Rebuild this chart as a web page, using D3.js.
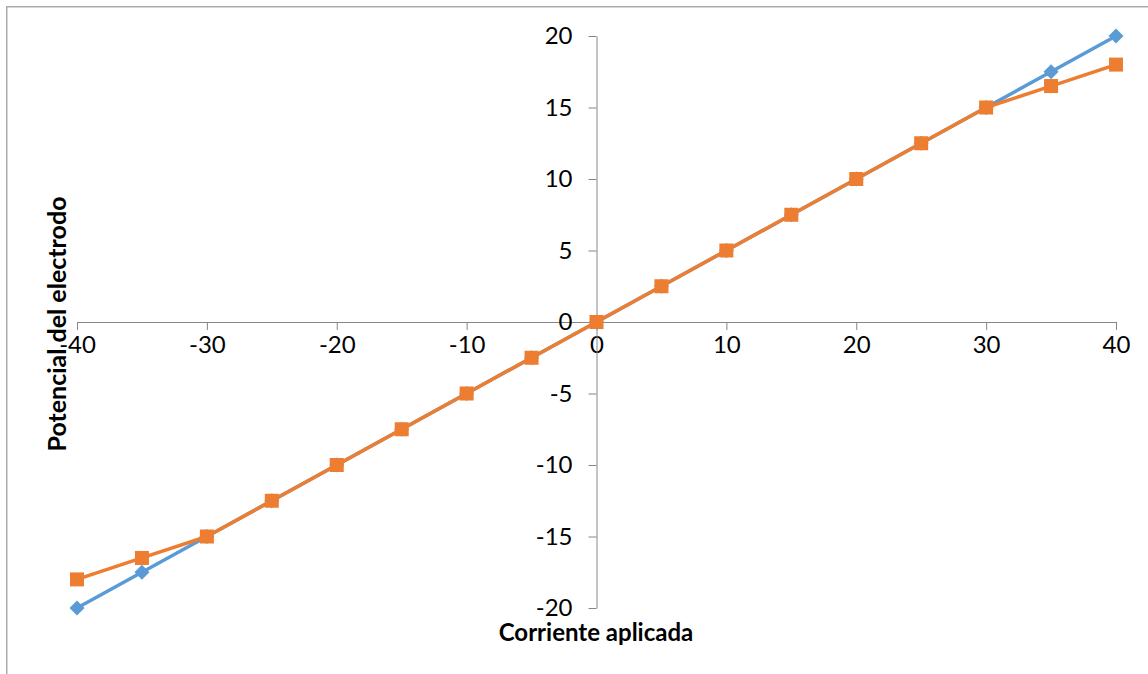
<!DOCTYPE html>
<html><head><meta charset="utf-8">
<script src="https://cdn.jsdelivr.net/npm/d3@7"></script>
<style>body{margin:0;background:#fff}svg{display:block}</style>
</head><body><svg id="c" width="1148" height="674"></svg>
<script>
const current = [-40,-35,-30,-25,-20,-15,-10,-5,0,5,10,15,20,25,30,35,40];
const seriesBlue = [-20,-17.5,-15,-12.5,-10,-7.5,-5,-2.5,0,2.5,5,7.5,10,12.5,15,17.5,20];
const seriesOrange = [-18,-16.5,-15,-12.5,-10,-7.5,-5,-2.5,0,2.5,5,7.5,10,12.5,15,16.5,18];
const xTicks = [-40,-30,-20,-10,0,10,20,30,40];
const yTicks = [-20,-15,-10,-5,0,5,10,15,20];
const xTitle = "Corriente aplicada";
const yTitle = "Potencial del electrodo";

const svg = d3.select("#c");
const font = "Lato, 'Open Sans', sans-serif";
svg.append("rect").attr("x",6.75).attr("y",6.75).attr("width",1300).attr("height",800)
  .attr("fill","#fff").attr("stroke","#ababab").attr("stroke-width",1.5);

const x = d3.scaleLinear().domain([-40,40]).range([77,1116]);
const y = d3.scaleLinear().domain([-20,20]).range([608,36]);

const gx = svg.append("g").attr("transform",`translate(0,${y(0)})`)
  .call(d3.axisBottom(x).tickValues(xTicks).tickSizeInner(8).tickSizeOuter(0).tickPadding(6).tickFormat(d=>String(d)));
const gy = svg.append("g").attr("transform",`translate(${x(0)},0)`)
  .call(d3.axisLeft(y).tickValues(yTicks).tickSizeInner(8).tickSizeOuter(0).tickPadding(16).tickFormat(d=>String(d)));
[gx,gy].forEach(g=>{
  g.selectAll("path,line").attr("stroke","#868686").attr("stroke-width",1);
  g.selectAll("text").attr("fill","#000").style("font-family",font).style("font-size","24px");
});

const series = [
  {vals: seriesBlue, color:"#5B9BD5", shape:"diamond"},
  {vals: seriesOrange, color:"#ED7D31", shape:"square"}
];
const line = d3.line().x(d=>x(d[0])).y(d=>y(d[1]));
series.forEach(s=>{
  const pts = current.map((c,i)=>[c,s.vals[i]]);
  svg.append("path").datum(pts).attr("d",line).attr("fill","none")
    .attr("stroke",s.color).attr("stroke-width",3.5).attr("stroke-linejoin","round");
  const g = svg.append("g");
  pts.forEach(p=>{
    if(s.shape==="square"){
      g.append("rect").attr("x",x(p[0])-7).attr("y",y(p[1])-7).attr("width",14).attr("height",14).attr("fill",s.color);
    } else {
      const cx=x(p[0]), cy=y(p[1]), r=7.5;
      g.append("path").attr("d",`M${cx},${cy-r}L${cx+r},${cy}L${cx},${cy+r}L${cx-r},${cy}Z`).attr("fill",s.color);
    }
  });
});

svg.append("text").attr("x",596).attr("y",641).attr("text-anchor","middle")
  .style("font-family",font).style("font-size","24px").style("font-weight","bold").text(xTitle);
svg.append("text").attr("transform","translate(66,324) rotate(-90)").attr("text-anchor","middle")
  .style("font-family",font).style("font-size","25px").style("font-weight","bold").text(yTitle);
</script></body></html>
